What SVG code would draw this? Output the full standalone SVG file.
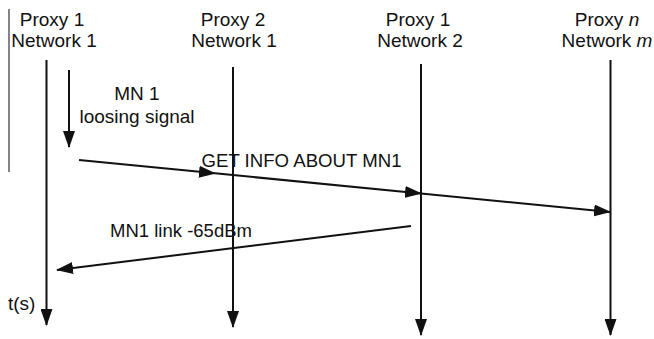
<svg xmlns="http://www.w3.org/2000/svg" width="654" height="339" viewBox="0 0 654 339">
  <style>
    .t { font-family: "Liberation Sans", Arial, sans-serif; font-size: 19px; fill: #111; }
    .c { text-anchor: middle; }
    .ln { stroke: #111; stroke-width: 2; fill: none; }
    .frame { stroke: #333; stroke-width: 1.2; }
  </style>
  <defs>
    <marker id="ah" markerUnits="userSpaceOnUse" markerWidth="17" markerHeight="12" refX="16" refY="6" orient="auto">
      <path d="M0,0 L17,6 L0,12 z" fill="#111"/>
    </marker>
  </defs>
  <rect width="654" height="339" fill="#fff"/>
  <line class="frame" x1="9" y1="9" x2="9" y2="172"/>

  <g id="proxy1-net1">
    <text class="t c" x="52" y="25.5">Proxy 1</text>
    <text class="t c" x="54" y="46.5">Network 1</text>
    <line class="ln" x1="46.5" y1="60" x2="46.5" y2="325" marker-end="url(#ah)"/>
  </g>
  <g id="proxy2-net1">
    <text class="t c" x="233" y="25.5">Proxy 2</text>
    <text class="t c" x="234" y="46.5">Network 1</text>
    <line class="ln" x1="233" y1="67" x2="233" y2="327" marker-end="url(#ah)"/>
  </g>
  <g id="proxy1-net2">
    <text class="t c" x="418" y="25.5">Proxy 1</text>
    <text class="t c" x="420" y="46.5">Network 2</text>
    <line class="ln" x1="421" y1="64" x2="421" y2="335" marker-end="url(#ah)"/>
  </g>
  <g id="proxyn-netm">
    <text class="t c" x="607" y="25.5">Proxy <tspan font-style="italic">n</tspan></text>
    <text class="t c" x="607" y="46.5">Network <tspan font-style="italic">m</tspan></text>
    <line class="ln" x1="610.5" y1="60" x2="610.5" y2="335" marker-end="url(#ah)"/>
  </g>

  <g id="connectors">
    <line class="ln" x1="69" y1="70" x2="69" y2="147" marker-end="url(#ah)"/>
    <line class="ln" x1="79" y1="160" x2="215" y2="173.3" marker-end="url(#ah)"/>
    <line class="ln" x1="215" y1="173.3" x2="421" y2="193.5" marker-end="url(#ah)"/>
    <line class="ln" x1="421" y1="193.5" x2="610" y2="212" marker-end="url(#ah)"/>
    <line class="ln" x1="411" y1="226" x2="57" y2="270" marker-end="url(#ah)"/>
  </g>

  <g id="labels">
    <text class="t c" x="137" y="100">MN 1</text>
    <text class="t c" x="137" y="122.7">loosing signal</text>
    <text class="t" x="201.5" y="166.5" textLength="200" lengthAdjust="spacingAndGlyphs">GET INFO ABOUT MN1</text>
    <text class="t" x="110" y="236.5" textLength="142" lengthAdjust="spacingAndGlyphs">MN1 link -65dBm</text>
    <text class="t" x="8" y="310">t(s)</text>
  </g>
</svg>
